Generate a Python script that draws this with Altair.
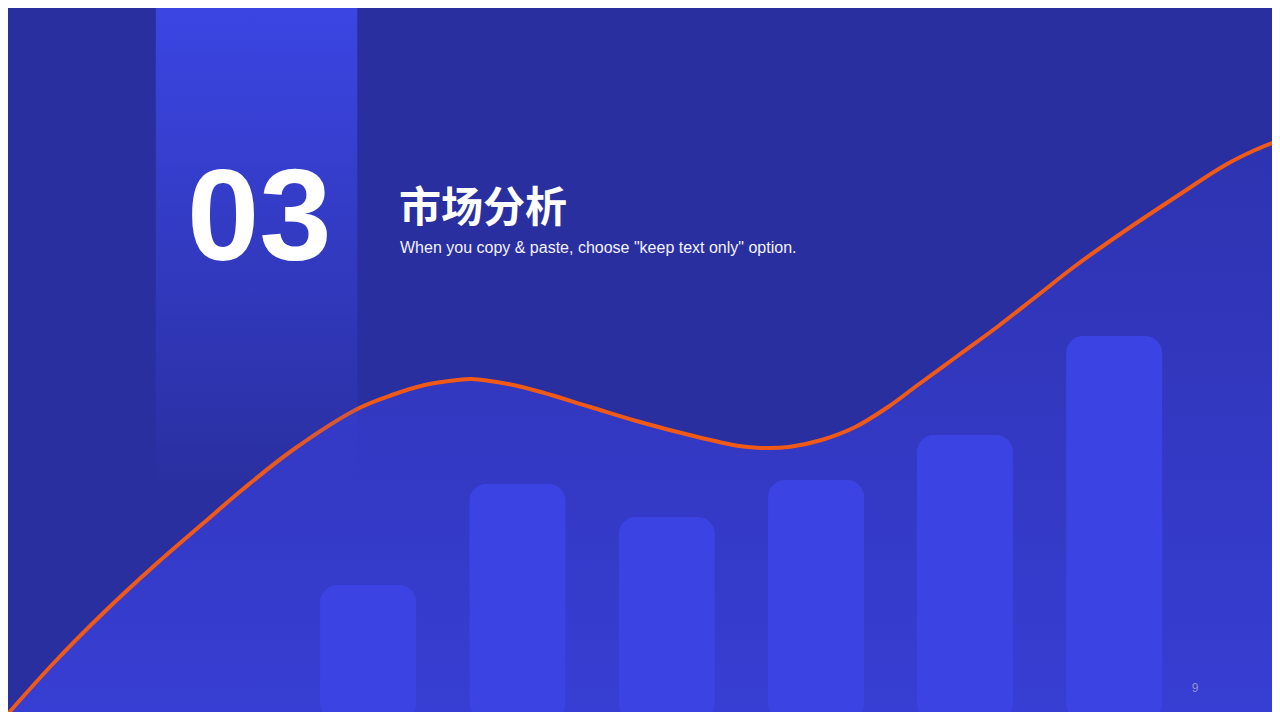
import altair as alt
import pandas as pd

# ---- data ----
curve_x = [0, 50, 100, 150, 200, 240, 290, 355, 390, 423, 457, 470, 507, 540,
           590, 640, 690, 740, 762, 790, 823, 857, 890, 920, 960, 1000, 1040,
           1080, 1130, 1180, 1230, 1260, 1280]
curve_v = [3, 58, 108, 154, 197, 231, 270, 311, 325, 335, 340, 341, 336, 328,
           313, 298, 285, 274, 272, 273, 280, 293, 313, 335, 364, 393, 424,
           455, 490, 523, 555, 570, 578]

bar_x = [366, 516.5, 667, 817.5, 967.5, 1118]
bar_v = [135, 236, 203, 240, 285, 384]

section_no = "03"
title = "市场分析"
subtitle = 'When you copy & paste, choose "keep text only" option.'
page_no = "9"

# ---- styling ----
BG = "#2A2FA0"
BAR = "#3B44E2"
ORANGE = "#F05A16"

xs = alt.Scale(domain=[8, 1272], nice=False, zero=False)
ys = alt.Scale(domain=[8, 712], nice=False, zero=False)

curve = pd.DataFrame({"x": curve_x, "v": curve_v})
bars = pd.DataFrame({"x": bar_x, "v": bar_v})

area_grad = alt.Gradient(
    gradient="linear", x1=0, y1=0, x2=0, y2=1,
    stops=[alt.GradientStop(color="#2E33B0", offset=0),
           alt.GradientStop(color="#373ED3", offset=1)])

stripe_grad = alt.Gradient(
    gradient="linear", x1=0, y1=0, x2=0, y2=1,
    stops=[alt.GradientStop(color="rgba(59,70,228,1)", offset=0),
           alt.GradientStop(color="rgba(59,70,228,0)", offset=1)])

area = alt.Chart(curve).mark_area(interpolate="catmull-rom", clip=True, color=area_grad).encode(
    x=alt.X("x:Q", scale=xs, axis=None),
    y=alt.Y("v:Q", scale=ys, axis=None),
    y2=alt.datum(0),
)

bar = alt.Chart(bars).mark_bar(size=96, cornerRadius=17, color=BAR, clip=True).encode(
    x=alt.X("x:Q", scale=xs, axis=None),
    y=alt.Y("v:Q", scale=ys, axis=None),
    y2=alt.datum(0),
)

line = alt.Chart(curve).mark_line(interpolate="catmull-rom", clip=True, color=ORANGE,
                                  strokeWidth=4).encode(
    x=alt.X("x:Q", scale=xs, axis=None),
    y=alt.Y("v:Q", scale=ys, axis=None),
)

stripe = alt.Chart(pd.DataFrame({"a": [0]})).mark_rect(color=stripe_grad, clip=True).encode(
    x=alt.datum(152, scale=xs), x2=alt.datum(355),
    y=alt.datum(720, scale=ys), y2=alt.datum(235),
)

def label(txt, x, y, size, font, weight="normal", color="white", align="left"):
    return alt.Chart(pd.DataFrame({"t": [txt]})).mark_text(
        font=font, fontSize=size, fontWeight=weight, color=color,
        align=align, baseline="alphabetic").encode(
        text="t:N", x=alt.value(x), y=alt.value(y))

t_no = label(section_no, 179, 252, 130, "Liberation Sans", "bold")
t_title = label(title, 391, 214, 42, "Noto Sans CJK SC", "bold")
t_sub = label(subtitle, 392, 245, 16, "Liberation Sans", color="#F2F2FF")
t_page = label(page_no, 1187, 684, 12, "Liberation Sans", color="#8E92CF", align="center")

chart = alt.layer(area, bar, line, stripe, t_no, t_title, t_sub, t_page).properties(
    width=1264, height=704, background=BG, padding=0,
    autosize=alt.AutoSizeParams(type="none"),
).configure_view(stroke=None)

chart.save("out.html", embed_options={"renderer": "svg", "actions": False})
